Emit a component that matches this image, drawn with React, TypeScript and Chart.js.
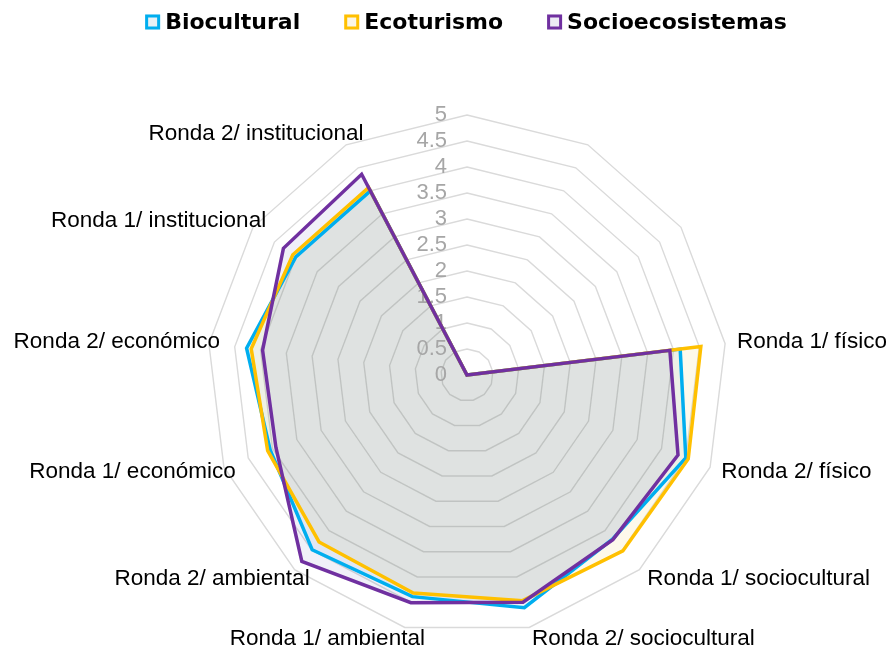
import React, { useEffect, useRef } from "react";
import { Chart, registerables } from "chart.js";

Chart.register(...registerables);

const categories = [
  "",
  "",
  "",
  "Ronda 1/ físico",
  "Ronda 2/ físico",
  "Ronda 1/ sociocultural",
  "Ronda 2/ sociocultural",
  "Ronda 1/ ambiental",
  "Ronda 2/ ambiental",
  "Ronda 1/ económico",
  "Ronda 2/ económico",
  "Ronda 1/ institucional",
  "Ronda 2/ institucional",
];

const biocultural = [0, 0, 0, 4.13, 4.5, 4.22, 4.61, 4.39, 4.49, 4.05, 4.27, 4.0, 4.0];
const ecoturismo = [0, 0, 0, 4.53, 4.55, 4.52, 4.47, 4.32, 4.29, 4.1, 4.18, 4.07, 4.07];
const socioecosistemas = [0, 0, 0, 3.93, 4.34, 4.23, 4.5, 4.51, 4.79, 3.93, 3.96, 4.29, 4.36];

const seriesNames = ["Biocultural", "Ecoturismo", "Socioecosistemas"];

const tickValues = [0, 0.5, 1, 1.5, 2, 2.5, 3, 3.5, 4, 4.5, 5];
const tickLabels = ["0", "0.5", "1", "1.5", "2", "2.5", "3", "3.5", "4", "4.5", "5"];

const lineColors = ["#00AEEF", "#FFC000", "#7030A0"];
const fillColors = ["rgba(0,120,170,0.07)", "rgba(230,180,0,0.08)", "rgba(40,40,155,0.07)"];
const legendFill = ["#e8f1f5", "#fbf6e6", "#ecebf4"];

const excelText = {
  id: "excelText",
  beforeDatasetsDraw(chart: any) {
    const scale = chart.scales.r;
    const ctx = chart.ctx;
    ctx.save();
    ctx.font = "22px 'Liberation Sans'";
    ctx.fillStyle = "#a6a6a6";
    ctx.textAlign = "right";
    ctx.textBaseline = "middle";
    tickValues.forEach((v, i) => {
      const d = scale.getDistanceFromCenterForValue(v);
      ctx.fillText(tickLabels[i], scale.xCenter - 20, scale.yCenter - d);
    });
    ctx.restore();
  },
  afterDraw(chart: any) {
    const scale = chart.scales.r;
    const ctx = chart.ctx;
    ctx.save();
    // category labels
    ctx.font = "22.5px 'Liberation Sans'";
    ctx.fillStyle = "#000000";
    ctx.textBaseline = "middle";
    const labels = chart.data.labels as string[];
    labels.forEach((lab, i) => {
      if (!lab) return;
      const p = scale.getPointPosition(i, scale.drawingArea + 12);
      const right = p.x >= scale.xCenter;
      ctx.textAlign = right ? "left" : "right";
      ctx.fillText(lab, right ? p.x : p.x + 23, p.y);
    });
    // legend
    const ds = chart.data.datasets;
    ctx.font = "bold 22px 'DejaVu Sans'";
    const box = 15;
    const gap = 5;
    const itemGap = 44;
    const widths = ds.map((d: any) => ctx.measureText(d.label).width);
    let total = 0;
    widths.forEach((w: number) => (total += box + gap + w));
    total += itemGap * (ds.length - 1);
    let x = 458 - total / 2;
    const y = 14;
    ds.forEach((d: any, i: number) => {
      ctx.fillStyle = legendFill[i];
      ctx.fillRect(x, y - box / 2, box, box);
      ctx.strokeStyle = d.borderColor;
      ctx.lineWidth = 3;
      ctx.strokeRect(x + 1.5, y - box / 2 + 1.5, box - 3, box - 3);
      ctx.fillStyle = "#000000";
      ctx.textAlign = "left";
      ctx.fillText(d.label, x + box + gap, y + 1);
      x += box + gap + widths[i] + itemGap;
    });
    ctx.restore();
  },
};

export default function App() {
  const ref = useRef<HTMLCanvasElement | null>(null);
  useEffect(() => {
    if (!ref.current) return;
    const series = [biocultural, ecoturismo, socioecosistemas];
    const chart = new Chart(ref.current, {
      type: "radar",
      data: {
        labels: categories,
        datasets: series.map((data, i) => ({
          label: seriesNames[i],
          data,
          borderColor: lineColors[i],
          backgroundColor: fillColors[i],
          borderWidth: 3.5,
          borderJoinStyle: "miter" as const,
          pointRadius: 0,
          pointHoverRadius: 0,
          fill: "origin",
          tension: 0,
          order: 3 - i,
        })),
      },
      options: {
        responsive: false,
        animation: false,
        layout: { padding: { left: 40, right: 0, top: 107, bottom: 10 } },
        scales: {
          r: {
            min: 0,
            max: 5,
            ticks: { stepSize: 0.5, display: false },
            pointLabels: { display: false },
            angleLines: { display: false },
            grid: { color: "#dadada", lineWidth: 1.4 },
          },
        },
        plugins: {
          legend: { display: false },
          tooltip: { enabled: false },
          filler: { drawTime: "beforeDatasetsDraw" },
        } as any,
      },
      plugins: [excelText],
    });
    return () => chart.destroy();
  }, []);
  return <canvas ref={ref} width={878} height={637} style={{ display: "block" }} />;
}
